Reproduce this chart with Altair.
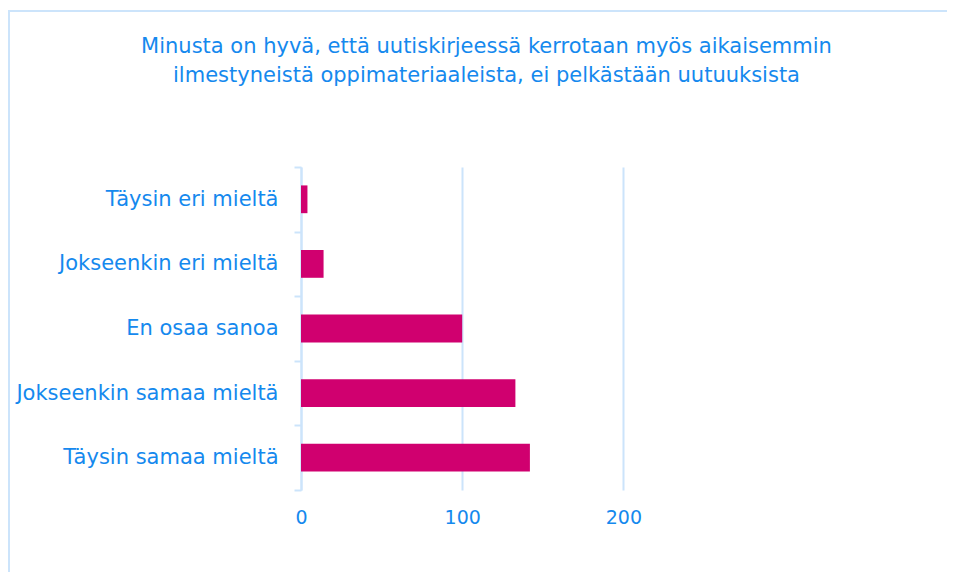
import altair as alt
import pandas as pd

categories = ["Täysin eri mieltä", "Jokseenkin eri mieltä", "En osaa sanoa",
              "Jokseenkin samaa mieltä", "Täysin samaa mieltä"]
values = [4, 14, 100, 133, 142]
x_ticks = [0, 100, 200]
title_lines = ["Minusta on hyvä, että uutiskirjeessä kerrotaan myös aikaisemmin",
               "ilmestyneistä oppimateriaaleista, ei pelkästään uutuuksista"]

BLUE = "#1589EE"
LIGHT = "#CCE4FB"
BAR = "#D0006F"
FONT = "DejaVu Sans"

df = pd.DataFrame({"cat": categories, "val": values})

W, H = 403, 323
PL, PT = 293, 159

bars = alt.Chart(df).mark_bar(color=BAR, cornerRadius=0,
                              height=alt.RelativeBandSize(0.43)).encode(
    x=alt.X("val:Q", scale=alt.Scale(domain=[0, 250], nice=False),
            axis=alt.Axis(values=x_ticks, title=None, domain=False, ticks=False,
                          grid=True, gridColor=LIGHT, gridWidth=2,
                          labelColor=BLUE, labelFont=FONT, labelFontSize=19,
                          labelPadding=18, labelFlush=False, format="d")),
    y=alt.Y("cat:N", sort=categories,
            scale=alt.Scale(paddingInner=0, paddingOuter=0),
            axis=alt.Axis(title=None, domainColor=LIGHT, domainWidth=2,
                          tickColor=LIGHT, tickWidth=2, tickSize=7,
                          tickBand="extent", labelColor=BLUE, labelFont=FONT,
                          labelFontSize=21, labelPadding=16, labelLimit=400,
                          grid=False)),
)

frame_top = alt.Chart(df).mark_rule(stroke=LIGHT, strokeWidth=2).encode(
    x=alt.value(-PL), x2=alt.value(W + 400),
    y=alt.value(11 - 8 - PT),
)
frame_left = alt.Chart(df).mark_rule(stroke=LIGHT, strokeWidth=2).encode(
    x=alt.value(1 - PL),
    y=alt.value(11 - 8 - PT), y2=alt.value(H + 200),
)

chart = alt.layer(frame_top, frame_left, bars).properties(
    width=W, height=H,
    autosize=alt.AutoSizeParams(type="none"),
    padding={"left": PL, "top": PT, "right": 939 - PL - W, "bottom": 564 - PT - H},
    title=alt.TitleParams(text=title_lines, color=BLUE, font=FONT, fontSize=21,
                          fontWeight="normal", anchor="middle", lineHeight=29,
                          offset=0, dx=-16, dy=76),
).configure_view(stroke=None)

chart.save("out.html", embed_options={"renderer": "svg", "actions": False})
